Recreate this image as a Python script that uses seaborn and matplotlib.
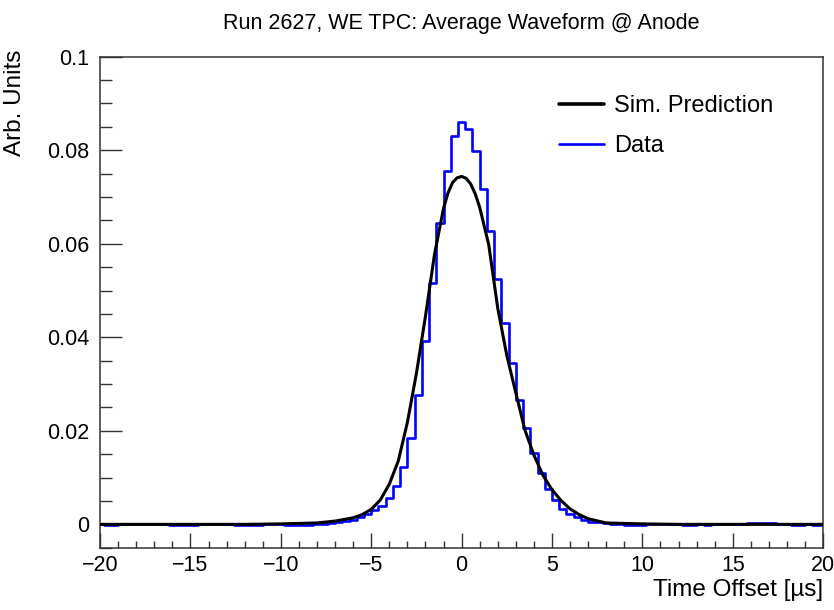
import numpy as np
import pandas as pd
import matplotlib
matplotlib.use("Agg")
import matplotlib.pyplot as plt
from matplotlib.ticker import MultipleLocator, FuncFormatter
import seaborn as sns

# ---------------- data ----------------
title = "Run 2627, WE TPC: Average Waveform @ Anode"
x_label = "Time Offset [\u00b5s]"
y_label = "Arb. Units"
series_names = ["Sim. Prediction", "Data"]

# Data histogram: bin width 0.4 us, bins centred on -20.0 ... 20.0
bin_width = 0.4
data_left_tail = [  # centres -20.0 ... -7.2
    0.0000, -0.0002, -0.0002, 0.0000, 0.0000, 0.0001, 0.0000, 0.0000,
    0.0000, 0.0000, -0.0002, -0.0002, -0.0002, -0.0002, 0.0000, 0.0001,
    0.0000, 0.0000, 0.0000, -0.0002, -0.0002, -0.0002, -0.0002, 0.0000,
    0.0001, 0.0000, -0.0001, -0.0001, -0.0001, -0.0001, 0.0000, 0.0001,
    0.0002,
]
data_core = [  # centres -6.8 ... 8.4
    0.0004, 0.0007, 0.0010, 0.0016, 0.0023, 0.0030, 0.0040, 0.0056,
    0.0082, 0.0123, 0.0184, 0.0277, 0.0393, 0.0517, 0.0645, 0.0755,
    0.0830, 0.0860, 0.0846, 0.0798, 0.0717, 0.0627, 0.0525, 0.0430,
    0.0345, 0.0266, 0.0205, 0.0153, 0.0109, 0.0075, 0.0052, 0.0033,
    0.0023, 0.0015, 0.0010, 0.0006, 0.0004, 0.0002, 0.0001,
]
data_right_tail = [  # centres 8.8 ... 20.0
    0.0000, -0.0002, -0.0002, -0.0002, 0.0000, 0.0000, 0.0000, 0.0000,
    0.0000, -0.0002, -0.0002, 0.0000, -0.0002, 0.0000, 0.0000, 0.0000,
    0.0000, 0.0001, 0.0002, 0.0002, 0.0002, 0.0002, 0.0000, 0.0000,
    -0.0002, -0.0002, 0.0000, -0.0002, -0.0002,
]
data_values = data_left_tail + data_core + data_right_tail
data_centers = np.round(np.arange(-20.0, 20.0 + 1e-9, bin_width), 1)

# Simulated prediction (smooth curve)
sim_x = [-20, -12, -10, -8, -7, -6, -5.5, -5, -4.5, -4, -3.5, -3, -2.5, -2,
         -1.5, -1, -0.75, -0.5, -0.25, 0, 0.25, 0.5, 0.75, 1, 1.5, 2, 2.5,
         3, 3.5, 4, 4.5, 5, 5.5, 6, 6.5, 7, 8, 10, 12, 20]
sim_y = [0.0, 0.0, 0.0001, 0.0003, 0.0007, 0.0014, 0.0021, 0.0032, 0.0052,
         0.0086, 0.0136, 0.0218, 0.0323, 0.0445, 0.0577, 0.0676, 0.0709,
         0.0731, 0.0741, 0.0744, 0.0740, 0.0728, 0.0707, 0.0678, 0.0598,
         0.0462, 0.0361, 0.0281, 0.0202, 0.0148, 0.0105, 0.0074, 0.0051,
         0.0033, 0.0021, 0.0012, 0.0003, 0.0001, 0.0, 0.0]

x_range = (-20, 20)
y_range = (-0.00514, 0.1)

# ---------------- plotting ----------------
sns.set_theme(style="white")
plt.rcParams["font.family"] = ["Liberation Sans", "DejaVu Sans"]
plt.rcParams["text.color"] = "black"
plt.rcParams["axes.labelcolor"] = "black"

fig = plt.figure(figsize=(8.34, 6.10), dpi=100)
ax = fig.add_axes([0.120, 0.101, 0.867, 0.806])

hist_df = pd.DataFrame({"t": data_centers, "w": data_values})
sns.histplot(data=hist_df, x="t", weights="w", binwidth=bin_width,
             binrange=(-20.2, 20.2), element="step",
             fill=False, color="#0000ff", linewidth=1.9, ax=ax, zorder=2)

sim_df = pd.DataFrame({"t": sim_x, "y": sim_y})
sns.lineplot(data=sim_df, x="t", y="y", color="black", linewidth=2.2,
             ax=ax, zorder=3)

ax.set_xlim(*x_range)
ax.set_ylim(*y_range)

ax.xaxis.set_major_locator(MultipleLocator(5))
ax.xaxis.set_minor_locator(MultipleLocator(1))
ax.yaxis.set_major_locator(MultipleLocator(0.02))
ax.yaxis.set_minor_locator(MultipleLocator(0.005))
ax.yaxis.set_major_formatter(FuncFormatter(lambda v, p: "0" if abs(v) < 1e-12 else f"{v:g}"))

ax.tick_params(axis="x", which="major", direction="in", length=10.8, width=1.0,
               labelsize=15.5, pad=5, colors="#333333", labelcolor="black")
ax.tick_params(axis="x", which="minor", direction="in", length=5, width=1.0,
               colors="#333333")
ax.tick_params(axis="y", which="major", direction="in", length=16, width=1.0,
               labelsize=15.5, pad=8, colors="#333333", labelcolor="black")
ax.tick_params(axis="y", which="minor", direction="in", length=8.5, width=1.0,
               colors="#333333")
ax.tick_params(top=False, right=False, bottom=True, left=True, which="both")

for sp in ax.spines.values():
    sp.set_color("#333333")
    sp.set_linewidth(1.1)

ax.set_xlabel(x_label, fontsize=17.5, loc="right", color="black")
ax.xaxis.set_label_coords(1.0, -0.062)
ax.set_ylabel(y_label, fontsize=17.5, loc="top", color="black")
ax.yaxis.set_label_coords(-0.103, 1.015)
ax.set_title(title, fontsize=15.5, y=1.0, pad=20, color="black")

handles = [plt.Line2D([], [], color="black", lw=2.6),
           plt.Line2D([], [], color="#0000ff", lw=1.9)]
ax.legend(handles, series_names, loc="upper left",
          bbox_to_anchor=(0.605, 0.965), frameon=False, fontsize=17,
          handlelength=1.9, handletextpad=0.45, labelspacing=0.75)

fig.savefig("out.png", dpi=100)
